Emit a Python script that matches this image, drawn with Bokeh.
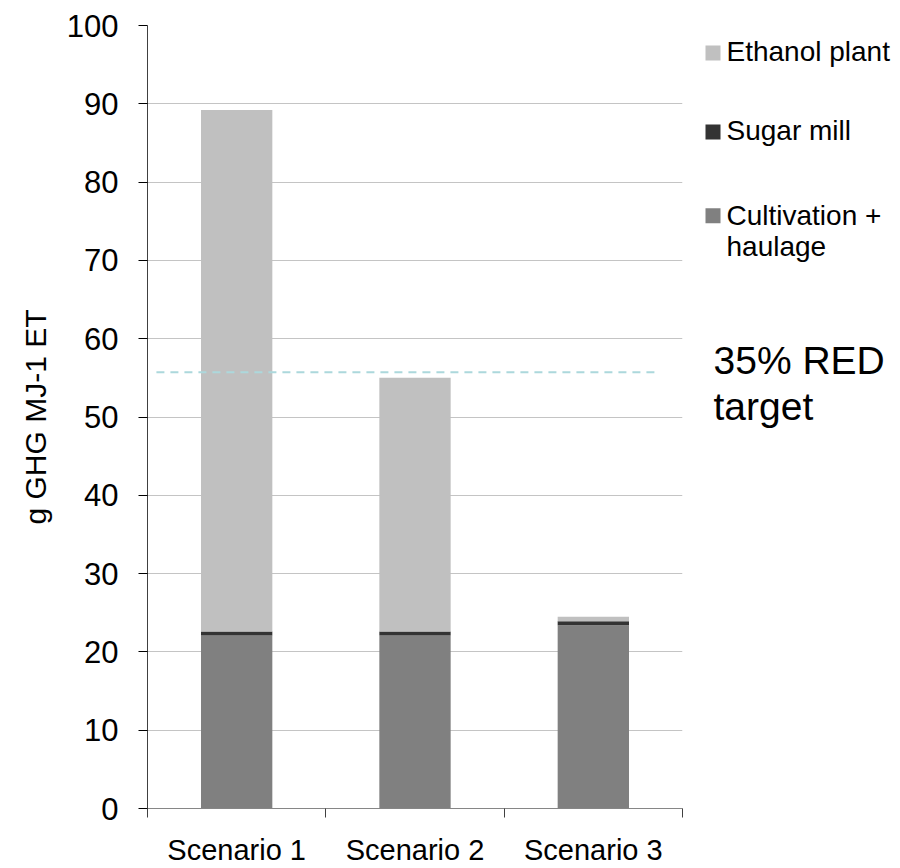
from bokeh.plotting import figure
from bokeh.layouts import row
from bokeh.models import Range1d, FixedTicker
from bokeh.core.properties import value
from bokeh.embed import file_html
from bokeh.resources import INLINE

# ---- data ----
scenarios = ["Scenario 1", "Scenario 2", "Scenario 3"]
cultivation = [22.1, 22.1, 23.4]
sugar_mill = [0.5, 0.5, 0.5]
ethanol_plant = [66.6, 32.4, 0.6]
series_names = ["Cultivation + haulage", "Sugar mill", "Ethanol plant"]
series_colors = ["#808080", "#333333", "#c0c0c0"]
y_ticks = [0, 10, 20, 30, 40, 50, 60, 70, 80, 90, 100]
red_target = 55.7
red_target_label = ["35% RED", "target"]

FONT = "Liberation Sans"
H = 868
TOP = 25
BOTTOM = 60

centers = [i + 0.5 for i in range(len(scenarios))]
bounds = [float(i) for i in range(len(scenarios) + 1)]

p = figure(width=686, height=H, output_backend="svg", toolbar_location=None,
           x_range=Range1d(0, len(scenarios)), y_range=Range1d(0, 100),
           min_border_left=147, min_border_right=4, min_border_top=TOP,
           min_border_bottom=BOTTOM)
p.outline_line_color = None

data = {"x": centers, "cult": cultivation, "sugar": sugar_mill, "eth": ethanol_plant}
rs = p.vbar_stack(["cult", "sugar", "eth"], x="x", width=0.4, source=data,
                  color=series_colors, line_color=None)

# dashed target line
p.segment(x0=[0.05], x1=[2.85], y0=[red_target], y1=[red_target],
          line_color="#acd8dc", line_width=2, line_dash="8 6")

# axes
xa = p.xaxis[0]
xa.ticker = FixedTicker(ticks=centers, minor_ticks=bounds)
xa.major_label_overrides = {c: s for c, s in zip(centers, scenarios)}
xa.major_tick_out = 0
xa.major_tick_in = 0
xa.minor_tick_out = 9
xa.minor_tick_in = 0
xa.minor_tick_line_color = "#404040"
xa.axis_line_color = "#868686"
xa.major_label_text_font = FONT
xa.major_label_text_font_size = "29px"
xa.major_label_text_color = "black"
xa.major_label_standoff = 16

ya = p.yaxis[0]
ya.ticker = FixedTicker(ticks=y_ticks)
ya.minor_tick_line_color = None
ya.major_tick_out = 9
ya.major_tick_in = 0
ya.major_tick_line_color = "black"
ya.axis_line_color = "#404040"
ya.major_label_text_font = FONT
ya.major_label_text_font_size = "31px"
ya.major_label_text_color = "black"
ya.major_label_standoff = 20
ya.axis_label = "g GHG MJ-1 ET"
ya.axis_label_text_font = FONT
ya.axis_label_text_font_size = "30px"
ya.axis_label_text_font_style = "normal"
ya.axis_label_text_color = "black"
ya.axis_label_standoff = 12

p.xgrid.grid_line_color = None
p.ygrid.grid_line_color = "#c4c4c4"
p.ygrid.grid_line_width = 1

# ---- right-hand panel: legend and target text (x in pixels from panel's left) ----
q = figure(width=900 - 686, height=H, output_backend="svg", toolbar_location=None,
           x_range=Range1d(0, 900 - 686), y_range=Range1d(0, 100),
           min_border_left=0, min_border_right=0, min_border_top=TOP,
           min_border_bottom=BOTTOM)
q.axis.visible = False
q.grid.grid_line_color = None
q.outline_line_color = None

# legend entries, top to bottom: Ethanol plant, Sugar mill, Cultivation + haulage
leg_names = [series_names[2], series_names[1], "Cultivation +"]
leg_colors = [series_colors[2], series_colors[1], series_colors[0]]
leg_sq_y = [96.5, 86.4, 75.7]
leg_txt_y = [96.65, 86.55, 75.75]
q.scatter(x=[26.5] * 3, y=leg_sq_y, marker="square", size=15,
          fill_color=leg_colors, line_color=None)
q.text(x=[40] * 3, y=leg_txt_y, text=leg_names, text_font=value(FONT),
       text_font_size="28px", text_color="black", text_baseline="alphabetic")
q.text(x=[40], y=[71.75], text=["haulage"], text_font=value(FONT),
       text_font_size="28px", text_color="black", text_baseline="alphabetic")

# target text
q.text(x=[27, 27], y=[57.25, 51.35], text=red_target_label, text_font=value(FONT),
       text_font_size="39px", text_color="black", text_baseline="alphabetic")

layout = row(p, q, spacing=0)
open("out.html", "w").write(file_html(layout, INLINE))
